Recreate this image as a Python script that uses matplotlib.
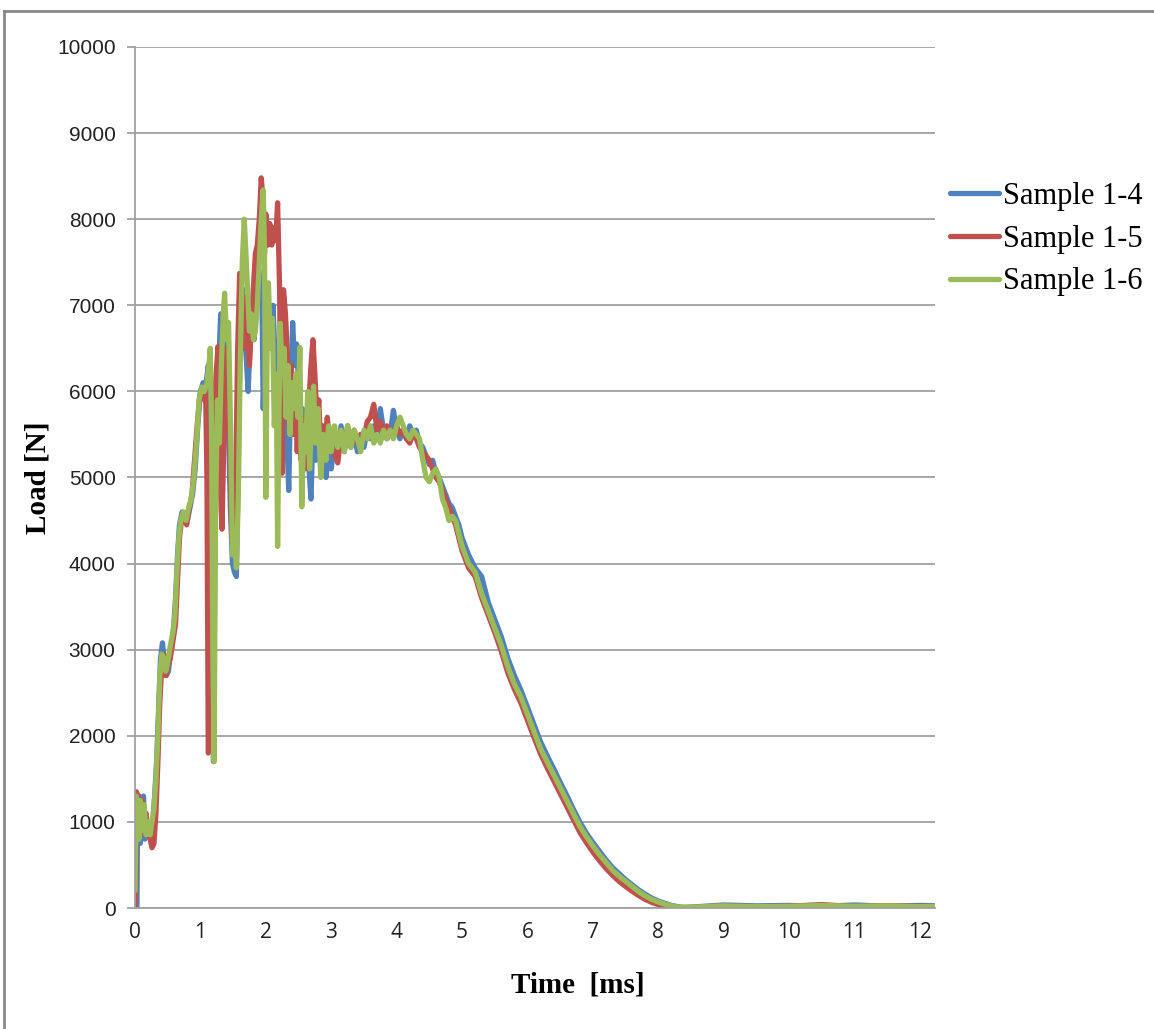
import matplotlib
matplotlib.use("Agg")
import matplotlib.pyplot as plt
from matplotlib.lines import Line2D

# Sample 1-4 (blue)
t_14 = [0.00, 0.03, 0.04, 0.06, 0.08, 0.10, 0.13, 0.15, 0.18, 0.21, 0.24, 0.27, 0.30, 0.33, 0.36, 0.39,
        0.42, 0.45, 0.48, 0.51, 0.55, 0.59, 0.62, 0.65, 0.68, 0.72, 0.76, 0.80, 0.84, 0.88, 0.92, 0.96,
        1.00, 1.04, 1.08, 1.12, 1.15, 1.18, 1.20, 1.22, 1.25, 1.28, 1.31, 1.34, 1.37, 1.40, 1.43, 1.46,
        1.49, 1.52, 1.55, 1.58, 1.61, 1.64, 1.67, 1.70, 1.73, 1.76, 1.79, 1.82, 1.85, 1.88, 1.91, 1.94,
        1.96, 1.99, 2.02, 2.05, 2.08, 2.11, 2.14, 2.17, 2.20, 2.23, 2.26, 2.29, 2.32, 2.35, 2.38, 2.41,
        2.44, 2.47, 2.50, 2.53, 2.56, 2.59, 2.62, 2.66, 2.69, 2.72, 2.76, 2.80, 2.84, 2.88, 2.92, 2.96,
        3.00, 3.05, 3.10, 3.15, 3.20, 3.25, 3.30, 3.35, 3.40, 3.45, 3.50, 3.55, 3.60, 3.65, 3.70, 3.75,
        3.80, 3.85, 3.90, 3.95, 4.00, 4.05, 4.10, 4.15, 4.20, 4.25, 4.30, 4.35, 4.40, 4.45, 4.50, 4.55,
        4.60, 4.65, 4.70, 4.75, 4.80, 4.85, 4.90, 4.95, 5.00, 5.10, 5.20, 5.30, 5.40, 5.50, 5.60, 5.70,
        5.80, 5.90, 6.00, 6.10, 6.20, 6.30, 6.40, 6.50, 6.60, 6.70, 6.80, 6.90, 7.00, 7.10, 7.20, 7.30,
        7.40, 7.50, 7.60, 7.70, 7.80, 7.90, 8.00, 8.10, 8.20, 8.30, 8.40, 8.70, 9.00, 9.50, 10.00, 10.50,
        11.00, 11.50, 12.00, 12.30]
load_14 = [0, 0, 1200, 1300, 750, 1250, 1300, 800, 1000, 850, 950, 1000, 1300, 1700, 2300, 2900,
           3080, 2850, 2700, 2750, 3000, 3250, 3600, 4100, 4450, 4600, 4550, 4500, 4650, 4800, 5100, 5600,
           6000, 6100, 6050, 6300, 6000, 3000, 1700, 4000, 5800, 6300, 6900, 6500, 6900, 6200, 5500, 4600,
           4000, 3900, 3850, 5200, 6800, 7200, 6700, 6400, 6000, 6600, 7000, 6600, 7100, 7500, 7300, 7180,
           5800, 6600, 7100, 6800, 6500, 7000, 6400, 5800, 6300, 5900, 6500, 6000, 5500, 4850, 6000, 6800,
           6300, 6550, 6100, 5500, 5800, 5300, 5600, 5100, 4750, 5500, 5200, 5700, 5100, 5400, 5000, 5300,
           5100, 5450, 5250, 5600, 5300, 5550, 5350, 5500, 5300, 5500, 5350, 5550, 5450, 5600, 5500, 5800,
           5550, 5450, 5500, 5780, 5550, 5450, 5550, 5450, 5600, 5500, 5550, 5400, 5350, 5250, 5150, 5200,
           5050, 5000, 4900, 4800, 4700, 4650, 4550, 4450, 4300, 4100, 3950, 3850, 3550, 3350, 3150, 2900,
           2700, 2530, 2330, 2130, 1930, 1770, 1620, 1460, 1310, 1150, 1000, 870, 760, 660, 560, 470,
           400, 330, 270, 210, 160, 115, 80, 55, 30, 15, 5, 20, 35, 25, 30, 20,
           35, 20, 30, 25]

# Sample 1-5 (red)
t_15 = [0.00, 0.01, 0.02, 0.05, 0.08, 0.11, 0.14, 0.17, 0.20, 0.23, 0.26, 0.29, 0.32, 0.35, 0.38, 0.41,
        0.44, 0.47, 0.50, 0.54, 0.58, 0.62, 0.65, 0.68, 0.71, 0.75, 0.79, 0.83, 0.87, 0.91, 0.95, 0.99,
        1.03, 1.06, 1.08, 1.10, 1.12, 1.14, 1.16, 1.18, 1.21, 1.24, 1.27, 1.29, 1.31, 1.33, 1.36, 1.39,
        1.42, 1.45, 1.48, 1.51, 1.54, 1.57, 1.60, 1.63, 1.66, 1.69, 1.72, 1.75, 1.78, 1.81, 1.84, 1.87,
        1.90, 1.93, 1.96, 1.98, 2.00, 2.03, 2.06, 2.09, 2.12, 2.15, 2.18, 2.21, 2.23, 2.25, 2.27, 2.30,
        2.33, 2.36, 2.39, 2.42, 2.45, 2.48, 2.51, 2.54, 2.57, 2.60, 2.63, 2.66, 2.69, 2.72, 2.75, 2.78,
        2.81, 2.84, 2.87, 2.90, 2.94, 2.98, 3.02, 3.06, 3.10, 3.15, 3.20, 3.25, 3.30, 3.35, 3.40, 3.45,
        3.50, 3.55, 3.60, 3.65, 3.70, 3.75, 3.80, 3.85, 3.90, 3.95, 4.00, 4.05, 4.10, 4.15, 4.20, 4.25,
        4.30, 4.35, 4.40, 4.45, 4.50, 4.55, 4.60, 4.65, 4.70, 4.75, 4.80, 4.85, 4.90, 4.95, 5.00, 5.10,
        5.20, 5.30, 5.40, 5.50, 5.60, 5.70, 5.80, 5.90, 6.00, 6.10, 6.20, 6.30, 6.40, 6.50, 6.60, 6.70,
        6.80, 6.90, 7.00, 7.10, 7.20, 7.30, 7.40, 7.50, 7.60, 7.70, 7.80, 7.90, 8.00, 8.10, 8.20, 8.30,
        8.60, 9.00, 9.50, 10.00, 10.50, 11.00, 11.50, 12.00, 12.30]
load_15 = [0, 250, 1350, 1300, 850, 1250, 900, 1100, 850, 800, 700, 750, 1100, 1700, 2400, 2800,
           2950, 2700, 2800, 2900, 3100, 3300, 3800, 4300, 4500, 4550, 4450, 4650, 4800, 5200, 5600, 5950,
           6000, 5900, 6000, 5000, 1800, 1850, 3500, 5000, 5800, 6200, 6520, 6000, 4800, 4400, 5500, 6500,
           6300, 5400, 4300, 4200, 5000, 6500, 7370, 6900, 6500, 7100, 6600, 6300, 6800, 7200, 7600, 7700,
           8000, 8480, 8200, 7600, 8060, 7700, 7950, 7700, 7900, 7750, 8190, 7200, 5800, 5050, 7180, 6900,
           6400, 5600, 6300, 5500, 6000, 5300, 5900, 5200, 5700, 5100, 5600, 5900, 6300, 6600, 6200, 5700,
           5900, 5300, 5600, 5400, 5700, 5350, 5500, 5250, 5170, 5500, 5350, 5600, 5400, 5550, 5400, 5500,
           5450, 5650, 5700, 5850, 5550, 5650, 5500, 5600, 5550, 5500, 5600, 5500, 5550, 5450, 5400, 5500,
           5450, 5350, 5300, 5250, 5200, 5100, 5000, 4950, 4850, 4750, 4650, 4550, 4450, 4300, 4150, 3950,
           3850, 3600, 3400, 3200, 2980, 2730, 2540, 2380, 2180, 1980, 1790, 1630, 1480, 1330, 1180, 1030,
           880, 760, 650, 550, 460, 380, 310, 250, 195, 145, 100, 65, 40, 20, 5, 0,
           10, 25, 15, 20, 40, 15, 25, 20, 15]

# Sample 1-6 (green)
t_16 = [0.00, 0.02, 0.04, 0.06, 0.08, 0.11, 0.14, 0.17, 0.20, 0.23, 0.26, 0.29, 0.32, 0.35, 0.38, 0.41,
        0.44, 0.47, 0.50, 0.54, 0.58, 0.61, 0.64, 0.67, 0.70, 0.74, 0.78, 0.82, 0.86, 0.90, 0.94, 0.98,
        1.02, 1.06, 1.10, 1.13, 1.15, 1.17, 1.19, 1.21, 1.23, 1.26, 1.29, 1.32, 1.35, 1.37, 1.40, 1.43,
        1.46, 1.49, 1.52, 1.55, 1.58, 1.61, 1.64, 1.67, 1.69, 1.72, 1.75, 1.78, 1.81, 1.84, 1.87, 1.90,
        1.93, 1.96, 1.98, 2.00, 2.02, 2.04, 2.07, 2.10, 2.13, 2.16, 2.18, 2.20, 2.22, 2.25, 2.28, 2.31,
        2.34, 2.37, 2.40, 2.43, 2.46, 2.49, 2.52, 2.55, 2.58, 2.61, 2.64, 2.67, 2.70, 2.73, 2.76, 2.80,
        2.84, 2.88, 2.92, 2.96, 3.00, 3.05, 3.10, 3.15, 3.20, 3.25, 3.30, 3.35, 3.40, 3.45, 3.50, 3.55,
        3.60, 3.65, 3.70, 3.75, 3.80, 3.85, 3.90, 3.95, 4.00, 4.05, 4.10, 4.15, 4.20, 4.25, 4.30, 4.35,
        4.40, 4.45, 4.50, 4.55, 4.60, 4.65, 4.70, 4.75, 4.80, 4.85, 4.90, 4.95, 5.00, 5.10, 5.20, 5.30,
        5.40, 5.50, 5.60, 5.70, 5.80, 5.90, 6.00, 6.10, 6.20, 6.30, 6.40, 6.50, 6.60, 6.70, 6.80, 6.90,
        7.00, 7.10, 7.20, 7.30, 7.40, 7.50, 7.60, 7.70, 7.80, 7.90, 8.00, 8.10, 8.20, 8.30, 8.50, 9.00,
        9.50, 10.00, 10.50, 11.00, 11.50, 12.00, 12.30]
load_16 = [200, 1300, 1150, 800, 1250, 900, 1200, 850, 1000, 850, 1000, 1150, 1500, 2000, 2700, 2950,
           2900, 2750, 2850, 3050, 3200, 3400, 3900, 4300, 4500, 4600, 4500, 4650, 4750, 5000, 5400, 5900,
           6050, 6000, 6100, 6300, 6500, 5600, 3000, 1700, 4500, 5900, 5400, 6300, 6900, 7140, 6600, 6800,
           5600, 4100, 4400, 3950, 4800, 6400, 7500, 8000, 7700, 7200, 6700, 6900, 6600, 6700, 7000, 7500,
           8000, 8340, 7600, 4770, 6500, 7260, 6500, 6850, 5600, 6200, 4200, 5600, 6790, 6200, 6500, 5700,
           6300, 5500, 6100, 5800, 6200, 5700, 6510, 4660, 5600, 5300, 6000, 5100, 5700, 6060, 5400, 5800,
           5000, 5500, 5200, 5600, 5300, 5600, 5350, 5550, 5300, 5600, 5350, 5550, 5450, 5300, 5550, 5450,
           5600, 5400, 5500, 5400, 5550, 5450, 5550, 5450, 5600, 5700, 5600, 5500, 5450, 5550, 5500, 5450,
           5200, 5000, 4950, 5050, 5100, 5000, 4750, 4650, 4500, 4550, 4500, 4350, 4200, 4000, 3900, 3650,
           3450, 3250, 3050, 2800, 2600, 2450, 2250, 2050, 1850, 1700, 1550, 1400, 1250, 1100, 950, 830,
           720, 620, 530, 440, 370, 310, 250, 190, 140, 100, 70, 45, 25, 12, 10, 25,
           15, 20, 30, 20, 25, 15, 20]

series_names = ["Sample 1-4", "Sample 1-5", "Sample 1-6"]
colors = ["#4F81BD", "#C0504D", "#9BBB59"]
y_ticks = list(range(0, 10001, 1000))
x_ticks = list(range(0, 13))

fig = plt.figure(figsize=(11.54, 10.29), dpi=100)
ax = fig.add_axes([135 / 1154, 1 - 908 / 1029, 800 / 1154, 861 / 1029])

for t, y, c, name in zip([t_14, t_15, t_16], [load_14, load_15, load_16], colors, series_names):
    ax.plot(t, y, color=c, lw=3.8, label=name, solid_joinstyle="round", solid_capstyle="round")

ax.set_xlim(0, 12.23)
ax.set_ylim(0, 10000)
ax.set_yticks(y_ticks)
ax.set_xticks(x_ticks)
ax.grid(axis="y", color="#A0A0A0", lw=1.3)
ax.set_axisbelow(True)
for s in ["top", "right"]:
    ax.spines[s].set_visible(False)
for s in ["left", "bottom"]:
    ax.spines[s].set_color("#A0A0A0")
    ax.spines[s].set_linewidth(1.3)
ax.tick_params(axis="y", length=6, width=1.3, color="#A0A0A0", pad=8)
ax.tick_params(axis="x", length=0, pad=10)
for lab in ax.get_yticklabels():
    lab.set_family(["Liberation Sans Narrow", "Liberation Sans"])
    lab.set_fontsize(15)
    lab.set_color("#222222")
for lab in ax.get_xticklabels():
    lab.set_family("Open Sans")
    lab.set_fontsize(15)
    lab.set_color("#222222")

fig.text(38 / 1154, 1 - 478 / 1029, "Load [N]", rotation=90, ha="center", va="center",
         family="Liberation Serif", weight="bold", fontsize=21)
fig.text(578 / 1154, 1 - 985 / 1029, "Time  [ms]", ha="center", va="center",
         family="Liberation Serif", weight="bold", fontsize=21)

leg = ax.legend(loc="center left", bbox_to_anchor=(950 / 1154, 1 - 239 / 1029),
                bbox_transform=fig.transFigure, frameon=False, handlelength=1.6,
                handletextpad=0.15, labelspacing=0.45, borderaxespad=0, borderpad=0,
                prop={"family": "Liberation Serif", "size": 22})
for h in leg.get_lines():
    h.set_linewidth(3.8)

# outer chart border (top and left visible)
fig.add_artist(Line2D([4 / 1154, 1.0], [1 - 11 / 1029, 1 - 11 / 1029], color="#888888", lw=2,
                      transform=fig.transFigure))
fig.add_artist(Line2D([4 / 1154, 4 / 1154], [0.0, 1 - 11 / 1029], color="#888888", lw=2,
                      transform=fig.transFigure))

fig.savefig("out.png", dpi=100)
